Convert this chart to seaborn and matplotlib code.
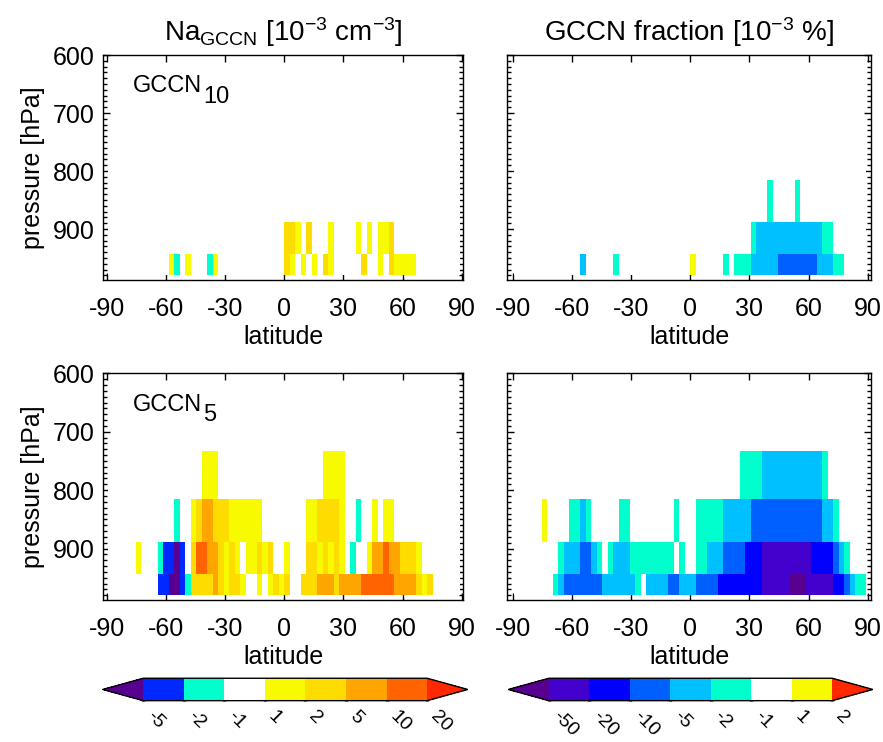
import numpy as np
import matplotlib
matplotlib.use("Agg")
import matplotlib.pyplot as plt
from matplotlib.colors import ListedColormap, BoundaryNorm
from matplotlib.cm import ScalarMappable
from matplotlib.ticker import MultipleLocator
import seaborn as sns

# latitude grid (~2.8 deg cells) and model level edges [hPa], surface first
lat_edges = np.linspace(-89.3, 89.3, 65)
p_edges = [980, 943, 888, 816, 733]

# one character per latitude cell (south -> north), one string per level (surface first)
na_gccn10 = [
    "..........." + "ya.y...ay" + "............" + "gy.y.y.gy.....g..y.gyyyy" + "........",
    "................................" + "ggy.g...y....y.y.yyg" + "............",
    "." * 64,
    "." * 64,
]
na_gccn5 = [
    "........." + "bbppba" + "ggggog" + "yggy.." + "y.ygyg" + "..gggooo" + "goooo" + "dddddd" + "oooogyg" + ".....",
    "....." + "y" + "..." + "abbpb." + "gddoog" + "ygy.yy" + "gyg..y" + "...ggy" + "gygy.a" + "..yood" + "ooggg" + "y" + ".......",
    "............" + "a..ygooggg" + "yyyyyy" + "........" + "yygggg" + "y..a..y.yy" + "............",
    "................." + "yyy" + "..................." + "yyyy" + ".....................",
]
frac_gccn10 = [
    "............" + "c.....a" + "............." + "y.....a.aaa" + "ccccc" + "bbbbbbb" + "ccc" + "aa" + "....",
    "..........................................." + "a" + "cccccccccccc" + "aa" + "......",
    ".............................................." + "a....a" + "............",
    "." * 64,
]
frac_gccn5 = [
    "......." + "ac" + "bbbbbbb" + "cccccc" + "a." + "cccc" + "bb" + "ccc" + "bbbb" + "BBBBBBBB" + "vvvvv" + "ppp" + "vvvvv" + "BB" + "bcaa",
    "........" + "acccbbca.accc" + "aaaaaaaa" + ".a..aa" + "cccbbbbBBB" + "vvvvvvvvv" + "BBBBbca" + "...",
    "....." + "y...." + "aaca....." + "aa........" + "a..." + "aaaaa" + "ccccc" + "bbbbbbbbbbbbb" + "cca" + ".....",
    "........................................." + "aaaa" + "ccccccccccc" + "a" + ".......",
]

# class codes -> representative value inside each colour bin
na_codes = {"p": -8, "b": -3, "a": -1.5, ".": 0, "y": 1.5, "g": 3, "o": 7, "d": 15, "r": 30}
frac_codes = {"p": -70, "v": -30, "B": -15, "b": -7, "c": -3, "a": -1.5, ".": 0, "y": 1.5, "r": 3}

na_bounds = [-5, -2, -1, 1, 2, 5, 10, 20]
na_labels = ["-5", "-2", "-1", "1", "2", "5", "10", "20"]
frac_bounds = [-50, -20, -10, -5, -2, -1, 1, 2]
frac_labels = ["-50", "-20", "-10", "-5", "-2", "-1", "1", "2"]

na_cmap = ListedColormap(["#0028FF", "#00FFCC", "#FFFFFF", "#F8FA00",
                          "#FFDC00", "#FFA500", "#FF6400"]).with_extremes(under="#58008F", over="#FF2800")
frac_cmap = ListedColormap(["#4400CC", "#0000FF", "#0060FF", "#00C0FF",
                            "#00FFCC", "#FFFFFF", "#F8FA00"]).with_extremes(under="#58008F", over="#FF2800")
na_norm = BoundaryNorm(na_bounds, na_cmap.N)
frac_norm = BoundaryNorm(frac_bounds, frac_cmap.N)

sns.set_theme(style="ticks")
plt.rcParams["font.family"] = ["Liberation Sans", "DejaVu Sans"]
plt.rcParams["mathtext.fontset"] = "custom"
plt.rcParams["mathtext.rm"] = "Liberation Sans"
plt.rcParams["mathtext.it"] = "Liberation Sans:italic"
plt.rcParams["axes.unicode_minus"] = False
for key in ["text.color", "axes.labelcolor", "xtick.color", "ytick.color", "axes.edgecolor"]:
    plt.rcParams[key] = "black"


def decode(rows, codes):
    return np.array([[codes[c] for c in row] for row in rows], dtype=float)


fig = plt.figure(figsize=(8.83, 7.42), dpi=100)

panels = [
    ([0.117, 0.6226, 0.407, 0.3032], na_gccn10, na_codes, na_cmap, na_norm, "10", (-91.7, 90.5)),
    ([0.5745, 0.6226, 0.4116, 0.3032], frac_gccn10, frac_codes, frac_cmap, frac_norm, None, (-92.7, 91.5)),
    ([0.117, 0.1914, 0.407, 0.3055], na_gccn5, na_codes, na_cmap, na_norm, "5", (-91.7, 90.5)),
    ([0.5745, 0.1914, 0.4116, 0.3055], frac_gccn5, frac_codes, frac_cmap, frac_norm, None, (-92.7, 91.5)),
]

axes = []
for pos, rows, codes, cmap, norm, sub, xlim in panels:
    ax = fig.add_axes(pos)
    ax.pcolormesh(lat_edges, p_edges, decode(rows, codes), cmap=cmap, norm=norm)
    ax.set_xlim(*xlim)
    ax.set_ylim(988, 600)
    ax.set_xticks([-90, -60, -30, 0, 30, 60, 90])
    ax.set_yticks([600, 700, 800, 900])
    ax.yaxis.set_minor_locator(MultipleLocator(10))
    ax.tick_params(which="both", direction="in", top=True, right=True, labelsize=18, color="black")
    ax.tick_params(which="major", length=5, width=1)
    ax.tick_params(which="minor", length=3, width=1)
    ax.tick_params(axis="x", pad=12)
    ax.tick_params(axis="y", pad=6)
    ax.set_xlabel("latitude", fontsize=18, labelpad=3)
    for s in ax.spines.values():
        s.set_linewidth(1.0)
        s.set_color("black")
    if sub is not None:
        ax.set_ylabel("pressure [hPa]", fontsize=18, labelpad=6)
        t = ax.text(0.083, 0.835, "GCCN", transform=ax.transAxes, fontsize=17,
                    ha="left", va="baseline")
        ax.annotate(sub, xy=(1, 0), xycoords=t, xytext=(0.5, -4), textcoords="offset points",
                    fontsize=17, ha="left", va="baseline")
    else:
        ax.set_yticklabels([])
    axes.append(ax)

axes[0].set_title(r"Na$_\mathrm{GCCN}$ [10$^{-3}$ cm$^{-3}$]", fontsize=20, pad=10)
axes[1].set_title(r"GCCN fraction [10$^{-3}$ %]", fontsize=20, pad=10)

# colorbar axes span the triangles too (interior = 7/9 of the width)
cbars = [
    ([0.1163, 0.0557, 0.4134, 0.0302], na_cmap, na_norm, na_bounds, na_labels),
    ([0.5757, 0.0557, 0.4127, 0.0302], frac_cmap, frac_norm, frac_bounds, frac_labels),
]
for pos, cmap, norm, bounds, labels in cbars:
    cax = fig.add_axes(pos)
    cb = fig.colorbar(ScalarMappable(norm=norm, cmap=cmap), cax=cax, orientation="horizontal",
                      extend="both", extendfrac=1 / 7, ticks=bounds)
    cb.outline.set_linewidth(1.0)
    cb.outline.set_edgecolor("black")
    cax.minorticks_off()
    cax.tick_params(which="major", direction="in", top=True, bottom=True, length=3, width=2.5,
                    color="black", pad=5)
    cax.set_xticklabels(labels, fontsize=14, rotation=-45, ha="left", va="top")

fig.savefig("out.png", dpi=100, facecolor="white")
